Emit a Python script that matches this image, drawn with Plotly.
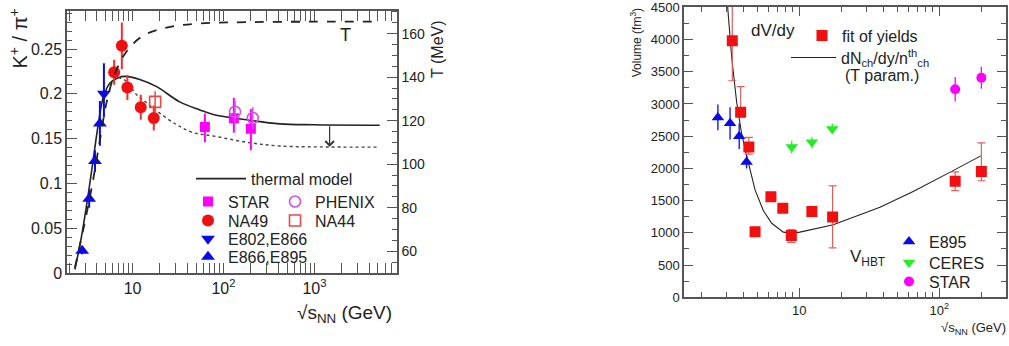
import numpy as np
import plotly.graph_objects as go

# ---------------- Left panel: K+/pi+ vs sqrt(s_NN) ----------------
tm_x = [2.32, 2.75, 3.25, 3.69, 4.19, 4.75, 5.62, 6.95, 8.3, 12.0, 18.4, 33, 55, 77, 179, 416, 966, 5225]
tm_k = [0.004, 0.0415, 0.0876, 0.1266, 0.1656, 0.1957, 0.2117, 0.218, 0.2195, 0.216, 0.208, 0.191,
        0.182, 0.177, 0.171, 0.1665, 0.1655, 0.165]
dot_x = [6.95, 8.3, 11.1, 14.3, 18.4, 30.5, 46.3, 77, 179, 416, 1472, 5225]
dot_k = [0.218, 0.215, 0.199, 0.19, 0.181, 0.1656, 0.1567, 0.153, 0.146, 0.1418, 0.1407, 0.1405]
t_x = [2.32, 2.87, 3.54, 4.37, 5.18, 6.38, 8.59, 13.1, 23.7, 55, 200, 1000, 5250]
t_T = [52.4, 70, 88.9, 110.9, 128.4, 141.6, 151.8, 159.1, 162.8, 164.7, 165.3, 165.5, 165.5]

e866_x = [2.79, 3.33, 3.86, 4.37]
e866_k = [0.025, 0.083, 0.125, 0.167]
e866_err = [0.004, 0.01, 0.012, 0.025]
e802_x = [4.84]
e802_k = [0.2]
e802_ep = [0.034]
e802_em = [0.026]
na49_x = [6.27, 7.62, 8.77, 12.3, 17.1]
na49_k = [0.224, 0.2535, 0.207, 0.185, 0.173]
na49_err = [0.014, 0.026, 0.014, 0.014, 0.014]
na44_x = [17.7]
na44_k = [0.191]
na44_err = [0.012]
star_x = [62.4, 130, 200]
star_k = [0.163, 0.1727, 0.161]
star_ep = [0.015, 0.023, 0.022]
star_em = [0.017, 0.016, 0.024]
phenix_x = [134, 210]
phenix_k = [0.18, 0.173]
phenix_err = [0.012, 0.012]
arrow_x = 1470
arrow_from = 0.1656
arrow_to = 0.141

left_xticks = [10, 100, 1000]
left_xticktext = ["10", "10<sup>2</sup>", "10<sup>3</sup>"]
left_xminor = [2, 3, 4, 5, 6, 7, 8, 9, 20, 30, 40, 50, 60, 70, 80, 90,
               200, 300, 400, 500, 600, 700, 800, 900, 2000, 3000, 4000, 5000, 6000, 7000, 8000]

# ---------------- Right panel: Volume vs sqrt(s_NN) ----------------
fit_x = [3.32, 3.81, 4.36, 4.83, 6.27, 7.62, 8.77, 12.3, 17.3, 130, 200]
fit_v = [3980, 2870, 2330, 1015, 1558, 1380, 960, 1330, 1247, 1800, 1953]
fit_ep = [700, 400, 150, 0, 0, 0, 90, 50, 480, 145, 443]
fit_em = [620, 60, 110, 0, 0, 0, 110, 30, 480, 145, 145]
tp_x = [3.0, 3.07, 3.29, 3.57, 3.88, 4.27, 4.83, 5.53, 6.35, 7.69, 8.83, 10.1, 17.5, 37.7, 65.1, 119, 198]
tp_v = [4800, 4500, 3713, 3022, 2530, 2135, 1666, 1346, 1148, 1010, 991, 1010, 1124, 1395, 1642, 1938, 2194]
e895_x = [2.62, 3.2, 3.72, 4.2]
e895_v = [2790, 2700, 2500, 2100]
e895_err = [200, 250, 200, 100]
ceres_x = [8.83, 12.3, 17.2]
ceres_v = [2330, 2405, 2612]
ceres_err = [100, 80, 80]
starv_x = [130, 200]
starv_v = [3229, 3407]
starv_err = [190, 170]

right_xticks = [10, 100]
right_xticktext = ["10", "10<sup>2</sup>"]
right_xminor = [2, 3, 4, 5, 6, 7, 8, 9, 20, 30, 40, 50, 60, 70, 80, 90, 200, 300]

FONT = "Liberation Sans, Arial, sans-serif"
BLUE = "#0a0ae6"
RED = "#f01010"
MAG = "#ff00ff"

W, H = 1009, 346


def px(x):
    return x / W


def py(y):
    return (H - y) / H


fig = go.Figure()

# left panel curves
fig.add_trace(go.Scatter(x=tm_x, y=tm_k, mode="lines", line=dict(color="#222", width=1.6, shape="spline"),
                         name="thermal model", legend="legend", xaxis="x", yaxis="y"))
fig.add_trace(go.Scatter(x=dot_x, y=dot_k, mode="lines", line=dict(color="#444", width=1.4, dash="dot", shape="spline"),
                         showlegend=False, xaxis="x", yaxis="y"))
fig.add_trace(go.Scatter(x=t_x, y=t_T, mode="lines", line=dict(color="#222", width=1.8, dash="dash", shape="spline"),
                         showlegend=False, xaxis="x", yaxis="y2"))

# left panel data
fig.add_trace(go.Scatter(x=e866_x, y=e866_k, mode="markers", name="E866,E895", legend="legend5",
                         marker=dict(symbol="triangle-up", size=12, color=BLUE),
                         error_y=dict(type="data", array=e866_err, color=BLUE, thickness=2, width=0),
                         xaxis="x", yaxis="y"))
fig.add_trace(go.Scatter(x=e802_x, y=e802_k, mode="markers", name="E802,E866", legend="legend4",
                         marker=dict(symbol="triangle-down", size=12, color=BLUE),
                         error_y=dict(type="data", array=e802_ep, arrayminus=e802_em, color=BLUE, thickness=2, width=0),
                         xaxis="x", yaxis="y"))
fig.add_trace(go.Scatter(x=na49_x, y=na49_k, mode="markers", name="NA49", legend="legend3",
                         marker=dict(symbol="circle", size=12, color=RED),
                         error_y=dict(type="data", array=na49_err, color="#ee3030", thickness=2, width=0),
                         xaxis="x", yaxis="y"))
fig.add_trace(go.Scatter(x=na44_x, y=na44_k, mode="markers", name="NA44", legend="legend7",
                         marker=dict(symbol="square-open", size=11, color="#e84848", line=dict(width=1.6)),
                         error_y=dict(type="data", array=na44_err, color="#e84848", thickness=1.5, width=0),
                         xaxis="x", yaxis="y"))
fig.add_trace(go.Scatter(x=star_x, y=star_k, mode="markers", name="STAR", legend="legend2",
                         marker=dict(symbol="square", size=10, color=MAG),
                         error_y=dict(type="data", array=star_ep, arrayminus=star_em, color=MAG, thickness=2, width=0),
                         xaxis="x", yaxis="y"))
fig.add_trace(go.Scatter(x=phenix_x, y=phenix_k, mode="markers", name="PHENIX", legend="legend6",
                         marker=dict(symbol="circle-open", size=11, color="#d050e8", line=dict(width=1.6)),
                         error_y=dict(type="data", array=phenix_err, color="#d050e8", thickness=1.5, width=0),
                         xaxis="x", yaxis="y"))

# right panel
fig.add_trace(go.Scatter(x=tp_x, y=tp_v, mode="lines", line=dict(color="#222", width=1.1),
                         name="dN<sub>ch</sub>/dy/n<sup>th</sup><sub>ch</sub>", legend="legend9",
                         xaxis="x2", yaxis="y3"))
fig.add_trace(go.Scatter(x=fit_x, y=fit_v, mode="markers", name="fit of yields", legend="legend8",
                         marker=dict(symbol="square", size=11, color=RED),
                         error_y=dict(type="data", array=fit_ep, arrayminus=fit_em, color="#e06060", thickness=1.2, width=4),
                         xaxis="x2", yaxis="y3"))
fig.add_trace(go.Scatter(x=e895_x, y=e895_v, mode="markers", name="E895", legend="legend10",
                         marker=dict(symbol="triangle-up", size=11, color=BLUE),
                         error_y=dict(type="data", array=e895_err, color=BLUE, thickness=1.3, width=0),
                         xaxis="x2", yaxis="y3"))
fig.add_trace(go.Scatter(x=ceres_x, y=ceres_v, mode="markers", name="CERES", legend="legend11",
                         marker=dict(symbol="triangle-down", size=11, color="#22ee22"),
                         error_y=dict(type="data", array=ceres_err, color="#22ee22", thickness=1.3, width=0),
                         xaxis="x2", yaxis="y3"))
fig.add_trace(go.Scatter(x=starv_x, y=starv_v, mode="markers", name="STAR", legend="legend12",
                         marker=dict(symbol="circle", size=10, color=MAG),
                         error_y=dict(type="data", array=starv_err, color=MAG, thickness=1.3, width=0),
                         xaxis="x2", yaxis="y3"))

axcol = "#555"
common = dict(showgrid=False, zeroline=False, showline=True, linecolor=axcol, linewidth=1.5,
              ticks="inside", tickcolor=axcol)

legend_base = dict(bgcolor="rgba(0,0,0,0)", borderwidth=0, xanchor="left", yanchor="middle",
                   font=dict(family=FONT, size=16, color="#222"), itemwidth=30, tracegroupgap=0)


def leg(xp, yp, **kw):
    d = dict(legend_base)
    d.update(x=px(xp), y=py(yp + 5))
    d.update(kw)
    return d


fig.update_layout(
    width=W, height=H, margin=dict(l=0, r=0, t=0, b=0),
    paper_bgcolor="white", plot_bgcolor="white",
    font=dict(family=FONT, color="#222"),
    xaxis=dict(type="log", range=[np.log10(1.9), np.log10(8100)], domain=[px(67), px(397)], anchor="y",
               tickmode="array", tickvals=left_xticks, ticktext=left_xticktext, ticklen=10,
               minor=dict(tickmode="array", tickvals=left_xminor, ticks="inside", ticklen=5, tickcolor=axcol),
               mirror="allticks", tickfont=dict(size=16, family=FONT, color="#222"), **common),
    yaxis=dict(range=[0, 0.2926], domain=[py(279), py(4)], anchor="x", tick0=0, dtick=0.05, ticklen=10,
               minor=dict(dtick=0.01, ticks="inside", ticklen=5, tickcolor=axcol),
               tickfont=dict(size=16, family=FONT, color="#222"), **common),
    yaxis2=dict(range=[49.9, 170.5], overlaying="y", side="right", anchor="x", tick0=0, dtick=20, ticklen=10,
                minor=dict(dtick=5, ticks="inside", ticklen=5, tickcolor=axcol),
                tickfont=dict(size=14, family=FONT, color="#222"), **common),
    xaxis2=dict(type="log", range=[np.log10(1.5), np.log10(300)], domain=[px(684), px(1006)], anchor="y3",
                tickmode="array", tickvals=right_xticks, ticktext=right_xticktext, ticklen=9,
                minor=dict(tickmode="array", tickvals=right_xminor, ticks="inside", ticklen=5, tickcolor=axcol),
                mirror="allticks", tickfont=dict(size=13, family=FONT, color="#222"), **common),
    yaxis3=dict(range=[0, 4505], domain=[py(304.3), 1.0], anchor="x2", tick0=0, dtick=500, ticklen=9,
                minor=dict(dtick=250, ticks="inside", ticklen=5, tickcolor=axcol), ticklabeloverflow="allow",
                mirror="allticks", tickfont=dict(size=13, family=FONT, color="#222"), **common),
    legend=leg(191, 175, itemwidth=50),
    legend2=leg(188, 199),
    legend3=leg(188, 219),
    legend4=leg(188, 238),
    legend5=leg(188, 257),
    legend6=leg(275, 199),
    legend7=leg(275, 219),
    legend8=leg(802, 25),
    legend9=leg(786, 48, itemwidth=45),
    legend10=leg(889, 241),
    legend11=leg(889, 263),
    legend12=leg(889, 283),
)

ann = [
    dict(x=px(18), y=py(33), text="K<sup>+</sup> / π<sup>+</sup>", textangle=-90, font=dict(size=20)),
    dict(x=px(438), y=py(45), text="T (MeV)", textangle=-90, font=dict(size=16)),
    dict(x=px(345), y=py(29), text="T", font=dict(size=18)),
    dict(x=px(394), y=py(322), text="√s<sub>NN</sub> (GeV)", xanchor="right", font=dict(size=19)),
    dict(x=px(749), y=py(25), text="dV/dy", xanchor="left", font=dict(size=17)),
    dict(x=px(843), y=py(72), text="(T param.)", xanchor="left", font=dict(size=16)),
    dict(x=px(848), y=py(263), text="V<sub>HBT</sub>", xanchor="left", font=dict(size=17)),
    dict(x=px(636), y=py(38), text="Volume (fm<sup>3</sup>)", textangle=-90, font=dict(size=12)),
    dict(x=px(1008), y=py(337), text="√s<sub>NN</sub> (GeV)", xanchor="right", font=dict(size=13)),
]
annotations = []
for a in ann:
    a.setdefault("xanchor", "center")
    a.update(xref="paper", yref="paper", showarrow=False, yanchor="middle")
    a["font"].update(family=FONT, color="#222")
    annotations.append(a)

annotations.append(dict(x=np.log10(arrow_x), y=arrow_to, ax=np.log10(arrow_x), ay=arrow_from,
                        xref="x", yref="y", axref="x", ayref="y", text="", showarrow=True,
                        arrowhead=4, arrowsize=1.4, arrowwidth=1.2, arrowcolor="#333"))
fig.update_layout(annotations=annotations)

fig.write_html("out.html", config={"displayModeBar": False},
               post_script="document.body.style.margin='0px';document.body.style.padding='0px';")
